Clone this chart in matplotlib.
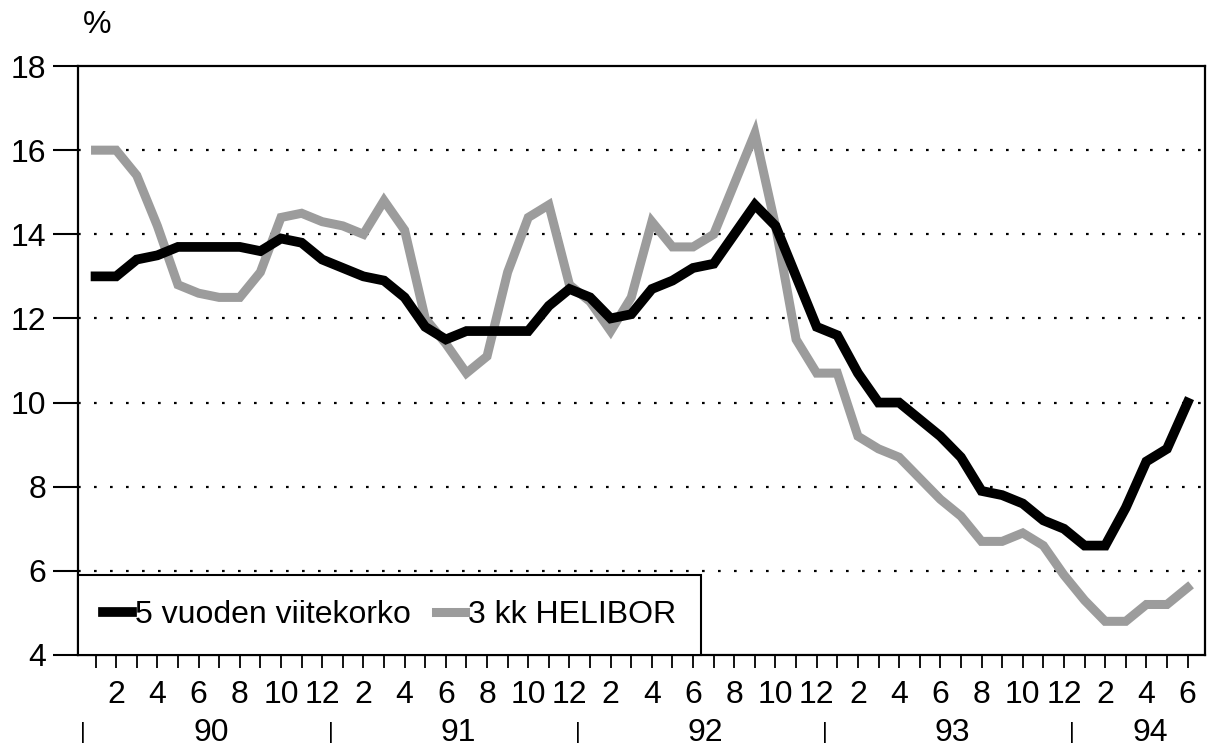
import matplotlib
matplotlib.use("Agg")
import matplotlib.pyplot as plt
import matplotlib.transforms as mtransforms
import numpy as np

plt.rcParams['font.family'] = ['Liberation Sans', 'DejaVu Sans']

# kuukaudet 1/1990 - 6/1994
kuukausi = np.arange(1, 55)

viitekorko_5v = [13.0, 13.0, 13.4, 13.5, 13.7, 13.7, 13.7, 13.7, 13.6, 13.9, 13.8, 13.4,
                 13.2, 13.0, 12.9, 12.5, 11.8, 11.5, 11.7, 11.7, 11.7, 11.7, 12.3, 12.7,
                 12.5, 12.0, 12.1, 12.7, 12.9, 13.2, 13.3, 14.0, 14.7, 14.2, 13.0, 11.8,
                 11.6, 10.7, 10.0, 10.0, 9.6, 9.2, 8.7, 7.9, 7.8, 7.6, 7.2, 7.0,
                 6.6, 6.6, 7.5, 8.6, 8.9, 10.0]

helibor_3kk = [16.0, 16.0, 15.4, 14.2, 12.8, 12.6, 12.5, 12.5, 13.1, 14.4, 14.5, 14.3,
               14.2, 14.0, 14.8, 14.1, 12.0, 11.4, 10.7, 11.1, 13.1, 14.4, 14.7, 12.8,
               12.4, 11.7, 12.5, 14.3, 13.7, 13.7, 14.0, 15.2, 16.4, 14.2, 11.5, 10.7,
               10.7, 9.2, 8.9, 8.7, 8.2, 7.7, 7.3, 6.7, 6.7, 6.9, 6.6, 5.9,
               5.3, 4.8, 4.8, 5.2, 5.2, 5.6]

vuodet = ['90', '91', '92', '93', '94']
vuosi_paikat = [6.6, 18.6, 30.6, 42.6, 52.2]
erottimet = [0.4, 12.4, 24.4, 36.4, 48.4]
y_tikit = [4, 6, 8, 10, 12, 14, 16, 18]

fs = 23

fig = plt.figure(figsize=(12.08, 7.47), dpi=100)
ax = fig.add_axes([0.0646, 0.1232, 0.933, 0.7884])

ax.plot(kuukausi, helibor_3kk, color='#9c9c9c', lw=6.5, solid_joinstyle='miter',
        label='3 kk HELIBOR', zorder=3)
ax.plot(kuukausi, viitekorko_5v, color='black', lw=7, solid_joinstyle='miter',
        label='5 vuoden viitekorko', zorder=4)

ax.set_xlim(0.15, 54.85)
ax.set_ylim(4, 18)

# pisteviivat
for y in y_tikit[1:-1]:
    ax.axhline(y, color='black', lw=1.6, dashes=(1.2, 6), zorder=1)

ax.set_yticks(y_tikit)
ax.set_yticklabels([str(v) for v in y_tikit])
ax.tick_params(axis='y', direction='out', length=18, width=1.5, pad=5, labelsize=fs)

ax.set_xticks(kuukausi)
ax.set_xticklabels([str((m - 1) % 12 + 1) if ((m - 1) % 12 + 1) % 2 == 0 else ''
                    for m in kuukausi])
ax.tick_params(axis='x', direction='out', length=9, width=1.3, pad=9, labelsize=fs)

for s in ax.spines.values():
    s.set_linewidth(1.6)
    s.set_color('black')

trans = mtransforms.blended_transform_factory(ax.transData, ax.transAxes)
for paikka, vuosi in zip(vuosi_paikat, vuodet):
    ax.text(paikka, -0.132, vuosi, transform=trans, ha='center', va='center', fontsize=fs)
for e in erottimet:
    ax.text(e, -0.132, '|', transform=trans, ha='center', va='center', fontsize=16)

fig.text(97 / 1208, 1 - 25 / 747, '%', ha='center', va='center', fontsize=fs)

handles, labels = ax.get_legend_handles_labels()
leg = ax.legend(handles[::-1], labels[::-1], loc='lower left', bbox_to_anchor=(0, 0),
                borderaxespad=0, ncol=2, fancybox=False, fontsize=fs,
                handlelength=0.9, handletextpad=0.1, columnspacing=0.8,
                borderpad=0.78, framealpha=1)
leg.get_frame().set_edgecolor('black')
leg.get_frame().set_linewidth(1.5)
leg.set_zorder(5)

fig.savefig('out.png', dpi=100)
